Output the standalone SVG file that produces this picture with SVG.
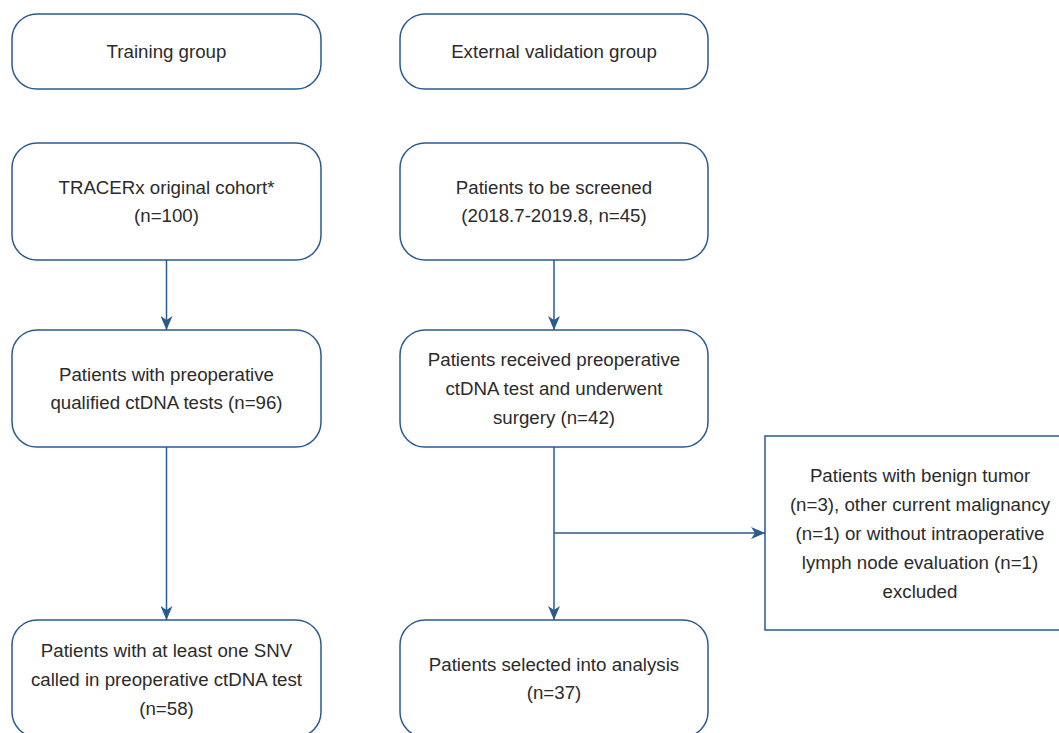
<svg xmlns="http://www.w3.org/2000/svg" width="1059" height="733" viewBox="0 0 1059 733">
<style>
.box{fill:#fff;stroke:#2a5b8f;stroke-width:1.5}
.t{font-family:"Liberation Sans",Arial,sans-serif;font-size:18.7px;fill:#2b2b2b;text-anchor:middle;dominant-baseline:central}
.c{fill:none;stroke:#2a5b8f;stroke-width:1.5}
</style>
<defs>
<marker id="ah" viewBox="0 0 14 12" refX="14" refY="6" markerWidth="14" markerHeight="12" markerUnits="userSpaceOnUse" orient="auto">
<path d="M0,0 L14,6 L0,12 L4,6 Z" fill="#2a5b8f"/>
</marker>
</defs>
<rect width="1059" height="733" fill="#fff"/>
<g id="connectors">
<path class="c" d="M166.5,260 V330" marker-end="url(#ah)"/>
<path class="c" d="M166.5,447 V620" marker-end="url(#ah)"/>
<path class="c" d="M554,260 V330" marker-end="url(#ah)"/>
<path class="c" d="M554,447 V620" marker-end="url(#ah)"/>
<path class="c" d="M554,533 H765" marker-end="url(#ah)"/>
</g>
<g id="training">
<rect class="box" x="12" y="14" width="309" height="75" rx="25"/>
<text class="t" x="166.5" y="51.5">Training group</text>
</g>
<g id="external">
<rect class="box" x="400" y="14" width="308" height="75" rx="25"/>
<text class="t" x="554" y="51.5">External validation group</text>
</g>
<g id="tracerx">
<rect class="box" x="12" y="143" width="309" height="117" rx="25"/>
<text class="t" x="166.5" y="187">TRACERx original cohort*</text>
<text class="t" x="166.5" y="215">(n=100)</text>
</g>
<g id="screened">
<rect class="box" x="400" y="143" width="308" height="117" rx="25"/>
<text class="t" x="554" y="187">Patients to be screened</text>
<text class="t" x="554" y="215">(2018.7-2019.8, n=45)</text>
</g>
<g id="qualified">
<rect class="box" x="12" y="330" width="309" height="117" rx="25"/>
<text class="t" x="166.5" y="374.5">Patients with preoperative</text>
<text class="t" x="166.5" y="402.5">qualified ctDNA tests (n=96)</text>
</g>
<g id="received">
<rect class="box" x="400" y="330" width="308" height="117" rx="25"/>
<text class="t" x="554" y="359.5">Patients received preoperative</text>
<text class="t" x="554" y="388.5">ctDNA test and underwent</text>
<text class="t" x="554" y="417.5">surgery (n=42)</text>
</g>
<g id="excluded">
<rect class="box" x="765" y="436" width="300" height="194" rx="0"/>
<text class="t" x="920" y="475">Patients with benign tumor</text>
<text class="t" x="920" y="504">(n=3), other current malignancy</text>
<text class="t" x="920" y="533">(n=1) or without intraoperative</text>
<text class="t" x="920" y="562">lymph node evaluation (n=1)</text>
<text class="t" x="920" y="591">excluded</text>
</g>
<g id="snv">
<rect class="box" x="12" y="620" width="309" height="117" rx="25"/>
<text class="t" x="166.5" y="650">Patients with at least one SNV</text>
<text class="t" x="166.5" y="679">called in preoperative ctDNA test</text>
<text class="t" x="166.5" y="708">(n=58)</text>
</g>
<g id="selected">
<rect class="box" x="400" y="620" width="308" height="117" rx="25"/>
<text class="t" x="554" y="664.5">Patients selected into analysis</text>
<text class="t" x="554" y="692.5">(n=37)</text>
</g>
</svg>
